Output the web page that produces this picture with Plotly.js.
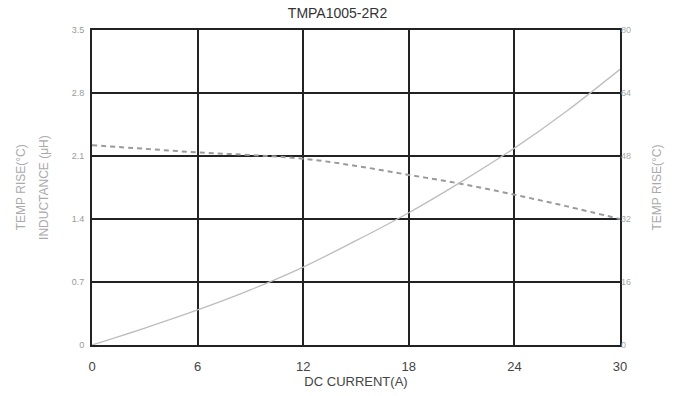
<!DOCTYPE html>
<html>
<head>
<meta charset="utf-8">
<script src="https://cdn.plot.ly/plotly-3.0.1.min.js"></script>
<style>html,body{margin:0;padding:0;background:#fff;}#chart{width:675px;height:396px;}</style>
</head>
<body>
<div id="chart"></div>
<script>
var current = [0, 3, 6, 9, 12, 15, 18, 21, 24, 27, 30];
var inductance = [2.22, 2.18, 2.14, 2.11, 2.07, 1.99, 1.89, 1.79, 1.67, 1.54, 1.40];
var tempRise = [0, 4.3, 8.9, 14.0, 19.8, 26.5, 33.6, 41.5, 50.0, 59.5, 70.0];
var xTicks = [0, 6, 12, 18, 24, 30];
var yTicks = [0, 0.7, 1.4, 2.1, 2.8, 3.5];
var yTickText = ['0', '0.7', '1.4', '2.1', '2.8', '3.5'];
var y2Ticks = [0, 16, 32, 48, 64, 80];

var traces = [
  {x: current, y: inductance, type: 'scatter', mode: 'lines', line: {shape: 'spline', color: '#9a9a9a', width: 2, dash: '5px,4px'}, yaxis: 'y', hoverinfo: 'none'},
  {x: current, y: tempRise, type: 'scatter', mode: 'lines', line: {shape: 'spline', color: '#bdbdbd', width: 1.3}, yaxis: 'y2', hoverinfo: 'none'}
];

var layout = {
  width: 675, height: 396,
  margin: {l: 92, r: 55, t: 30, b: 51},
  paper_bgcolor: '#fff', plot_bgcolor: '#fff',
  showlegend: false,
  font: {family: 'Arial, Liberation Sans, sans-serif', color: '#444'},
  title: {text: 'TMPA1005-2R2', font: {size: 14, color: '#333'}, x: 0.5, xanchor: 'center', y: 0.968, yanchor: 'middle'},
  xaxis: {
    range: [0, 30], tickvals: xTicks, ticktext: xTicks.map(String),
    showgrid: true, gridcolor: '#222', gridwidth: 2,
    showline: true, linecolor: '#222', linewidth: 2, mirror: true,
    zeroline: false, ticks: '', ticklabelstandoff: 8, tickfont: {size: 13, color: '#444'},
    title: {text: 'DC CURRENT(A)', font: {size: 13, color: '#444'}, standoff: 3}
  },
  yaxis: {
    range: [0, 3.5], tickvals: yTicks, ticktext: yTickText,
    showgrid: true, gridcolor: '#222', gridwidth: 2,
    showline: true, linecolor: '#222', linewidth: 2, mirror: true,
    zeroline: false, ticks: '', ticklabelstandoff: 4, tickfont: {size: 9, color: '#999'}
  },
  yaxis2: {
    range: [0, 80], tickvals: y2Ticks, ticktext: y2Ticks.map(String),
    overlaying: 'y', side: 'right', showgrid: false, zeroline: false,
    showline: false, ticks: '', tickfont: {size: 9, color: '#aaa'}
  },
  annotations: [
    {text: 'TEMP RISE(°C)', xref: 'paper', yref: 'paper', x: -0.135, y: 0.5, textangle: -90, showarrow: false, font: {size: 12, color: '#aaa'}, xanchor: 'center', yanchor: 'middle'},
    {text: 'INDUCTANCE (μH)', xref: 'paper', yref: 'paper', x: -0.092, y: 0.5, textangle: -90, showarrow: false, font: {size: 12, color: '#aaa'}, xanchor: 'center', yanchor: 'middle'},
    {text: 'TEMP RISE(°C)', xref: 'paper', yref: 'paper', x: 1.07, y: 0.5, textangle: -90, showarrow: false, font: {size: 12, color: '#aaa'}, xanchor: 'center', yanchor: 'middle'}
  ]
};

Plotly.newPlot('chart', traces, layout, {staticPlot: true, displayModeBar: false});
</script>
</body>
</html>
